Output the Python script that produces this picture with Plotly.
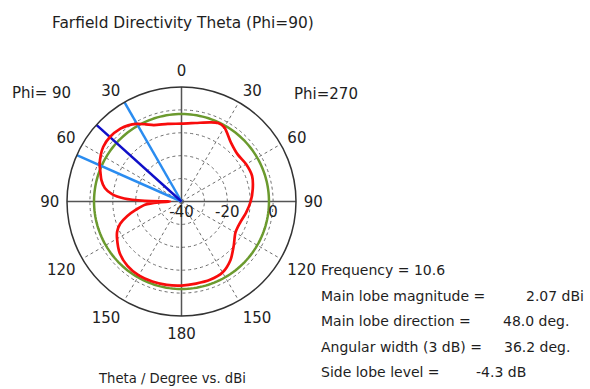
import plotly.graph_objects as go

# ---- data ----
# angle position on plot: 0 = top, 90 = left (Phi=90 side), 270 = right (Phi=270 side)
plot_angle = [0, 10, 20, 25, 30, 35, 40, 48, 55, 60, 66, 70, 75, 80, 84, 87, 89, 90.5, 92,
              95, 100, 105, 110, 115, 120, 130, 140, 150, 160, 170, 180, 190, 200, 210,
              220, 230, 240, 250, 260, 270, 280, 290, 300, 310, 320, 330, 335, 340, 350, 360]
directivity = [-6.0, -5.6, -4.5, -2.8, -0.9, 0.6, 1.5, 2.07, 1.7, 0.7, -0.9, -2.3, -3.8, -6.0, -9.5, -15.0, -24.0, -35.0, -30.0,
               -24.0, -20.0, -15.5, -11.5, -9.0, -7.5, -4.8, -3.3, -2.7, -2.8, -3.0, -3.3, -3.6, -3.6, -4.2,
               -6.7, -10.2, -12.8, -12.8, -11.4, -9.8, -8.4, -7.2, -7.4, -8.0, -6.4, -2.6, -2.2, -3.2, -5.2, -6.0]

main_lobe_dir = 48.0
beam_edges = [29.9, 66.1]
level_3db = -1.8
r_min, r_max = -40, 10
ring_vals = [-40, -30, -20, -10, 0]
ring_text = ["-40", "", "-20", "", "0"]
ang_tickvals = list(range(0, 360, 30))
ang_ticktext = ["0", "30", "60", "90", "120", "150", "180", "150", "120", "90", "60", "30"]

info_labels = ["Main lobe magnitude =", "Main lobe direction =", "Angular width (3 dB) =", "Side lobe level ="]
info_values = ["2.07 dBi", "48.0 deg.", "36.2 deg.", "-4.3 dB"]

FONT = "DejaVu Sans"
TXT = "#1e1e1e"
FS = 15

fig = go.Figure()

# axis cross (solid)
for a in (0, 90):
    fig.add_trace(go.Scatterpolar(r=[r_max + 3, r_min, r_max + 3], theta=[a, a, a + 180],
                                  mode="lines", line=dict(color="#555555", width=1.5),
                                  cliponaxis=False, hoverinfo="skip", showlegend=False))

# 3 dB circle
circ_theta = list(range(0, 361, 2))
fig.add_trace(go.Scatterpolar(r=[level_3db] * len(circ_theta), theta=circ_theta, mode="lines",
                              line=dict(color="#6b9a2e", width=2.5), showlegend=False))

# beam-width lines
for a in beam_edges:
    fig.add_trace(go.Scatterpolar(r=[r_min, r_max], theta=[a, a], mode="lines",
                                  line=dict(color="#2a8cf0", width=2.5), showlegend=False))
fig.add_trace(go.Scatterpolar(r=[r_min, r_max], theta=[main_lobe_dir, main_lobe_dir], mode="lines",
                              line=dict(color="#1010c8", width=2.5), showlegend=False))

# directivity pattern
fig.add_trace(go.Scatterpolar(r=directivity, theta=plot_angle, mode="lines",
                              line=dict(color="#f80c0c", width=2.7, shape="spline", smoothing=0.8),
                              showlegend=False))

R = 114.5
CX, CY = 181.5, 201.5
cx0, cx1 = (CX - R) / 590, (CX + R) / 590
cy0, cy1 = (389 - (CY + R)) / 389, (389 - (CY - R)) / 389

fig.update_layout(
    width=590, height=389,
    margin=dict(l=0, r=0, t=0, b=0),
    paper_bgcolor="white",
    font=dict(family=FONT, size=FS, color=TXT),
    polar=dict(
        domain=dict(x=[cx0, cx1], y=[cy0, cy1]),
        bgcolor="white",
        angularaxis=dict(rotation=90, direction="counterclockwise",
                         tickmode="array", tickvals=ang_tickvals, ticktext=ang_ticktext,
                         showline=True, linecolor="#333333", linewidth=1.5,
                         gridcolor="#6e6e6e", griddash="dot", gridwidth=1,
                         ticks="outside", ticklen=4, tickcolor="rgba(0,0,0,0)",
                         tickfont=dict(size=FS, color=TXT, family=FONT)),
        radialaxis=dict(range=[r_min, r_max], tickmode="array", tickvals=ring_vals, ticktext=ring_text,
                        angle=0, tickangle=0, side="clockwise", showline=False, ticks="",
                        gridcolor="#6e6e6e", griddash="dot", gridwidth=1,
                        tickfont=dict(size=FS, color=TXT, family=FONT)),
    ),
)

def ann(x, y, text, size=FS, xanchor="left"):
    fig.add_annotation(x=x / 590, y=1 - y / 389, xref="paper", yref="paper", text=text,
                       showarrow=False, xanchor=xanchor, yanchor="middle",
                       font=dict(family=FONT, size=size, color=TXT))

ann(50, 23, "Farfield Directivity Theta (Phi=90)", size=15.4)
ann(10, 93, "Phi= 90")
ann(292, 94, "Phi=270")
ann(96, 378, "Theta / Degree vs. dBi", size=13.2)
ann(319, 270, "Frequency = 10.6", size=14)
ys = [296, 321, 347, 372]
vx_end = [586, 571, 572, 528]
for lab, val, y, x in zip(info_labels, info_values, ys, vx_end):
    ann(319, y, lab, size=14)
    ann(x, y, val, size=14, xanchor="right")

fig.write_html("out.html", config={"displayModeBar": False},
               post_script="document.body.style.margin='0px';")
